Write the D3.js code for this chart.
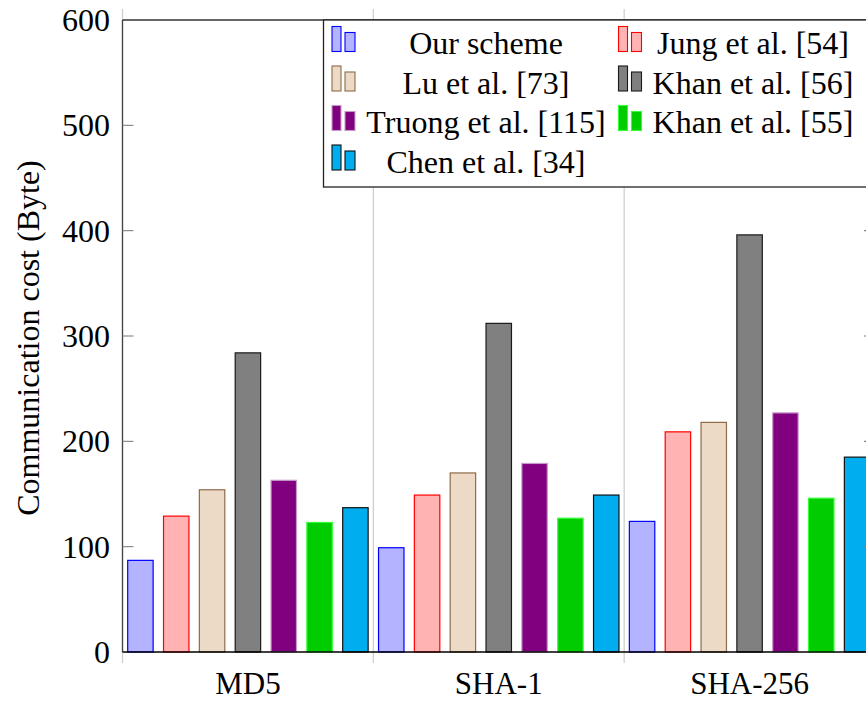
<!DOCTYPE html>
<html>
<head>
<meta charset="utf-8">
<script src="https://cdn.jsdelivr.net/npm/d3@7"></script>
<style>
  html, body { margin: 0; padding: 0; background: #fff; }
  svg { display: block; }
  text { font-family: "Liberation Serif", "Times New Roman", serif; fill: #000; }
</style>
</head>
<body>
<svg id="chart" width="866" height="702"></svg>
<script>
// ---- data ----
const categories = ["MD5", "SHA-1", "SHA-256"];
const seriesNames = ["Our scheme", "Jung et al. [54]", "Lu et al. [73]", "Khan et al. [56]",
                     "Truong et al. [115]", "Khan et al. [55]", "Chen et al. [34]"];
const ourScheme = [87, 99, 124];
const jung54    = [129, 149, 209];
const lu73      = [154, 170, 218];
const khan56    = [284, 312, 396];
const truong115 = [163, 179, 227];
const khan55    = [123, 127, 146];
const chen34    = [137, 149, 185];
const yTicks = [0, 100, 200, 300, 400, 500, 600];
const yTitle = "Communication cost (Byte)";

const seriesValues = [ourScheme, jung54, lu73, khan56, truong115, khan55, chen34];
const fills   = ["#b3b3ff", "#ffb3b3", "#ecd9c6", "#808080", "#800080", "#00cc00", "#00aeef"];
const strokes = ["#0000ff", "#ff0000", "#8f6b47", "#1a1a1a", "#c89ac8", "#33ff33", "#111111"];

// legend layout: row-major, 2 columns
const legendOrder = [0, 1, 2, 3, 4, 5, 6];

// ---- layout ----
const L = 122.5, R = 875, T = 20, B = 652;
const svg = d3.select("#chart");

const x0 = d3.scaleBand().domain(categories).range([L, R]).paddingInner(0).paddingOuter(0);
const x1 = d3.scaleBand().domain(d3.range(seriesNames.length)).range([0, x0.bandwidth()])
  .paddingInner(0.29).paddingOuter(0.145);
const y = d3.scaleLinear().domain([0, 600]).range([B, T]);

// x grid lines + outward ticks (at group boundaries)
const bounds = categories.map(c => x0(c)).concat([R]);
const gGrid = svg.append("g");
bounds.forEach(bx => {
  gGrid.append("line").attr("x1", bx).attr("x2", bx).attr("y1", T - 11).attr("y2", B + 11)
    .attr("stroke", "#cccccc").attr("stroke-width", 1.2);
});

// bars
const gBars = svg.append("g");
categories.forEach((c, ci) => {
  seriesValues.forEach((vals, si) => {
    const v = vals[ci];
    gBars.append("rect")
      .attr("x", x0(c) + x1(si))
      .attr("y", y(v))
      .attr("width", x1.bandwidth())
      .attr("height", y(0) - y(v))
      .attr("fill", fills[si])
      .attr("stroke", strokes[si])
      .attr("stroke-width", 1.2);
  });
});

// axes frame
svg.append("line").attr("x1", L).attr("x2", L).attr("y1", T).attr("y2", B)
  .attr("stroke", "#444").attr("stroke-width", 1.3);
svg.append("line").attr("x1", L).attr("x2", R).attr("y1", T).attr("y2", T)
  .attr("stroke", "#333").attr("stroke-width", 1.3);
svg.append("line").attr("x1", R).attr("x2", R).attr("y1", T).attr("y2", B)
  .attr("stroke", "#444").attr("stroke-width", 1.3);
svg.append("line").attr("x1", L).attr("x2", R).attr("y1", B).attr("y2", B)
  .attr("stroke", "#000").attr("stroke-width", 1.4);

// y ticks (inward, both sides) + labels
const gY = svg.append("g");
yTicks.forEach(t => {
  if (t !== 0 && t !== 600) {
    gY.append("line").attr("x1", L).attr("x2", L + 11).attr("y1", y(t)).attr("y2", y(t))
      .attr("stroke", "#808080").attr("stroke-width", 1.1);
    gY.append("line").attr("x1", R - 11).attr("x2", R).attr("y1", y(t)).attr("y2", y(t))
      .attr("stroke", "#808080").attr("stroke-width", 1.1);
  }
  gY.append("text").attr("x", 110).attr("y", y(t)).attr("dy", "0.34em")
    .attr("text-anchor", "end").attr("font-size", 32).text(t);
});

// x labels
categories.forEach(c => {
  svg.append("text").attr("x", x0(c) + x0.bandwidth() / 2).attr("y", 694)
    .attr("text-anchor", "middle").attr("font-size", 31).text(c);
});

// y title
svg.append("text").attr("transform", "translate(39,338) rotate(-90)")
  .attr("text-anchor", "middle").attr("font-size", 32).text(yTitle);

// legend
const gL = svg.append("g");
gL.append("rect").attr("x", 323.5).attr("y", T).attr("width", R - 323.5).attr("height", 167)
  .attr("fill", "#fff").attr("stroke", "#222").attr("stroke-width", 1.3);
const colIconX = [332, 618.5];
const colTextX = [486, 753];
const rowBase = [54, 93.5, 133, 172.5];
legendOrder.forEach((si, k) => {
  const col = k % 2, row = Math.floor(k / 2);
  const ix = colIconX[col], base = rowBase[row];
  const bot = base - 2.5;
  gL.append("rect").attr("x", ix).attr("y", bot - 25).attr("width", 9).attr("height", 25)
    .attr("fill", fills[si]).attr("stroke", strokes[si]).attr("stroke-width", 1.1);
  gL.append("rect").attr("x", ix + 13).attr("y", bot - 19).attr("width", 10).attr("height", 19)
    .attr("fill", fills[si]).attr("stroke", strokes[si]).attr("stroke-width", 1.1);
  gL.append("text").attr("x", colTextX[col]).attr("y", base)
    .attr("text-anchor", "middle").attr("font-size", 32).text(seriesNames[si]);
});
</script>
</body>
</html>
